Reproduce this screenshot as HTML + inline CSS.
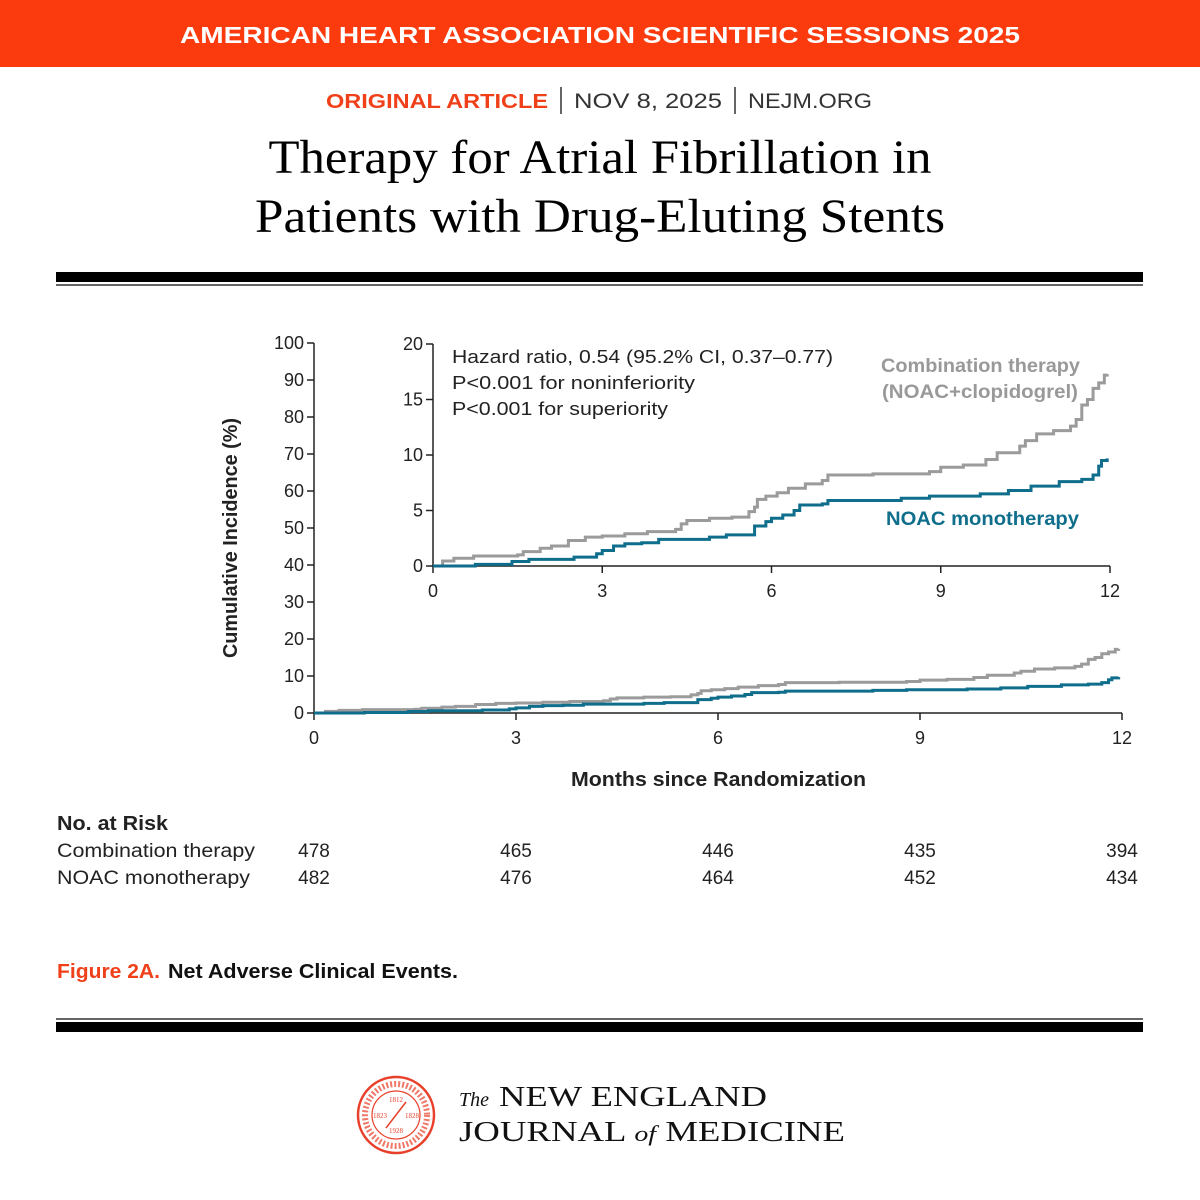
<!DOCTYPE html>
<html><head><meta charset="utf-8"><style>
html,body{margin:0;padding:0;background:#fff}
svg{display:block}
text{font-family:"Liberation Sans",sans-serif}
.serif{font-family:"Liberation Serif",serif}
</style></head><body>
<svg id="page" width="1200" height="1200" viewBox="0 0 1200 1200" xmlns="http://www.w3.org/2000/svg">
<rect x="0" y="0" width="1200" height="67" fill="#fb3a0e"/>
<text x="600" y="43" text-anchor="middle" fill="#fff" font-size="23" font-weight="bold" textLength="840" lengthAdjust="spacingAndGlyphs">AMERICAN HEART ASSOCIATION SCIENTIFIC SESSIONS 2025</text>
<text x="326" y="108" fill="#f0401a" font-size="20" font-weight="bold" textLength="222" lengthAdjust="spacingAndGlyphs">ORIGINAL ARTICLE</text>
<line x1="561" y1="87" x2="561" y2="114" stroke="#333" stroke-width="1.5"/>
<text x="574" y="108" fill="#333" font-size="21" textLength="148" lengthAdjust="spacingAndGlyphs">NOV 8, 2025</text>
<line x1="735" y1="87" x2="735" y2="114" stroke="#333" stroke-width="1.5"/>
<text x="748" y="108" fill="#333" font-size="21" textLength="124" lengthAdjust="spacingAndGlyphs">NEJM.ORG</text>
<text class="serif" x="600" y="173" text-anchor="middle" font-size="48" fill="#000" textLength="663" lengthAdjust="spacingAndGlyphs">Therapy for Atrial Fibrillation in</text>
<text class="serif" x="600" y="232" text-anchor="middle" font-size="48" fill="#000" textLength="690" lengthAdjust="spacingAndGlyphs">Patients with Drug-Eluting Stents</text>
<rect x="56" y="272" width="1087" height="10" fill="#000"/>
<rect x="56" y="284" width="1087" height="2" fill="#666"/>
<rect x="56" y="1018" width="1087" height="2" fill="#666"/>
<rect x="56" y="1022" width="1087" height="10" fill="#000"/>

<g id="main"></g>
<g id="inset"></g>

<text transform="translate(237,538) rotate(-90)" text-anchor="middle" font-size="20" font-weight="bold" fill="#222" textLength="240" lengthAdjust="spacingAndGlyphs">Cumulative Incidence (%)</text>
<text x="571" y="786" font-size="20" font-weight="bold" fill="#222" textLength="295" lengthAdjust="spacingAndGlyphs">Months since Randomization</text>

<text x="452" y="363" font-size="18" fill="#222" textLength="381" lengthAdjust="spacingAndGlyphs">Hazard ratio, 0.54 (95.2% CI, 0.37–0.77)</text>
<text x="452" y="389" font-size="18" fill="#222" textLength="243" lengthAdjust="spacingAndGlyphs">P&lt;0.001 for noninferiority</text>
<text x="452" y="415" font-size="18" fill="#222" textLength="216" lengthAdjust="spacingAndGlyphs">P&lt;0.001 for superiority</text>
<text x="881" y="372" font-size="19" font-weight="bold" fill="#999" textLength="199" lengthAdjust="spacingAndGlyphs">Combination therapy</text>
<text x="882" y="398" font-size="19" font-weight="bold" fill="#999" textLength="196" lengthAdjust="spacingAndGlyphs">(NOAC+clopidogrel)</text>
<text x="886" y="525" font-size="19" font-weight="bold" fill="#0e6e8c" textLength="193" lengthAdjust="spacingAndGlyphs">NOAC monotherapy</text>

<text x="57" y="830" font-size="20" font-weight="bold" fill="#222" textLength="111" lengthAdjust="spacingAndGlyphs">No. at Risk</text>
<text x="57" y="857" font-size="19" fill="#222" textLength="198" lengthAdjust="spacingAndGlyphs">Combination therapy</text>
<text x="57" y="884" font-size="19" fill="#222" textLength="193" lengthAdjust="spacingAndGlyphs">NOAC monotherapy</text>
<g id="risk"></g>

<text x="57" y="978" font-size="20" font-weight="bold" fill="#f0401a" textLength="103" lengthAdjust="spacingAndGlyphs">Figure 2A.</text>
<text x="168" y="978" font-size="20" font-weight="bold" fill="#111" textLength="290" lengthAdjust="spacingAndGlyphs">Net Adverse Clinical Events.</text>

<g>
<circle cx="396" cy="1115" r="38" fill="none" stroke="#e8402a" stroke-width="2.5"/>
<circle cx="396" cy="1115" r="24" fill="none" stroke="#e8402a" stroke-width="1.2"/>
<text x="396" y="1102" text-anchor="middle" font-size="7" fill="#e8402a" class="serif">1812</text>
<text x="396" y="1133" text-anchor="middle" font-size="7" fill="#e8402a" class="serif">1928</text>
<text x="380" y="1118" text-anchor="middle" font-size="7" fill="#e8402a" class="serif">1823</text>
<text x="412" y="1118" text-anchor="middle" font-size="7" fill="#e8402a" class="serif">1828</text>
<line x1="386" y1="1128" x2="406" y2="1102" stroke="#e8402a" stroke-width="1.5"/>
<circle cx="396" cy="1115" r="31" fill="none" stroke="#e8402a" stroke-width="6" stroke-dasharray="2 2" opacity="0.7"/>
</g>
<text class="serif" x="459" y="1106" font-size="20" font-style="italic" fill="#111">The</text>
<text class="serif" x="499" y="1106" font-size="29" fill="#111" textLength="268" lengthAdjust="spacingAndGlyphs">NEW ENGLAND</text>
<text class="serif" x="459" y="1141" font-size="29" fill="#111" textLength="386" lengthAdjust="spacingAndGlyphs">JOURNAL <tspan font-style="italic" font-size="22">of</tspan> MEDICINE</text>
</svg>
<script>
// Kaplan-Meier step data (months, cumulative incidence %)
const combTimes = [0,0.17,0.37,0.72,1.5,1.6,1.9,2.1,2.4,2.7,3.0,3.4,3.8,4.3,4.4,4.5,4.9,5.3,5.6,5.7,5.75,5.9,6.1,6.3,6.6,6.9,7.0,7.8,8.8,9.0,9.4,9.8,10.0,10.4,10.5,10.7,11.0,11.3,11.4,11.5,11.6,11.7,11.8,11.9,11.95];
const combValues = [0,0.45,0.7,0.9,1.0,1.3,1.6,1.8,2.3,2.6,2.7,2.9,3.1,3.3,3.8,4.1,4.3,4.4,4.9,5.3,6.0,6.3,6.6,7.0,7.4,7.7,8.2,8.3,8.5,8.9,9.1,9.6,10.2,10.8,11.3,11.9,12.2,12.6,13.2,14.5,15.0,16.0,16.5,17.2,17.3];
const noacTimes = [0,0.75,1.4,1.7,2.5,2.9,3.0,3.2,3.4,3.7,4.0,4.9,5.2,5.7,5.9,6.0,6.2,6.4,6.5,6.9,7.0,8.3,8.8,9.7,10.2,10.6,11.1,11.5,11.7,11.8,11.85,11.95];
const noacValues = [0,0.15,0.4,0.6,0.8,1.1,1.4,1.8,2.0,2.1,2.4,2.6,2.8,3.6,4.0,4.3,4.6,5.0,5.5,5.6,5.9,6.1,6.3,6.5,6.8,7.2,7.6,7.8,8.2,9.0,9.5,9.7];
const xTicks = [0,3,6,9,12];
const mainYTicks = [0,10,20,30,40,50,60,70,80,90,100];
const insetYTicks = [0,5,10,15,20];
const riskComb = [478,465,446,435,394];
const riskNoac = [482,476,464,452,434];

const NS = "http://www.w3.org/2000/svg";
function mk(tag, attrs, parent){const e=document.createElementNS(NS,tag);for(const k in attrs)e.setAttribute(k,attrs[k]);parent.appendChild(e);return e;}
function stepPath(ts, vs, sx, sy){let d="M"+sx(ts[0])+","+sy(vs[0]);for(let i=1;i<ts.length;i++){d+=" H"+sx(ts[i])+" V"+sy(vs[i]);}return d;}

function drawChart(g, x0, x1, y0, y1, ymax, yTicks, opts){
  const sx = t => x0 + (t/12)*(x1-x0);
  const sy = v => y0 - (v/ymax)*(y0-y1);
  const ax = mk("path",{d:"M"+x0+","+y1+" V"+y0+" H"+x1,fill:"none",stroke:"#222","stroke-width":1.5},g);
  
  
  yTicks.forEach(v=>{
    const y=sy(v);
    mk("line",{x1:x0-7,y1:y,x2:x0,y2:y,stroke:"#222","stroke-width":1.5},g);
    const t=mk("text",{x:x0-10,y:y+6,"text-anchor":"end","font-size":18,fill:"#222"},g);
    t.textContent=v;
    
    
  });
  xTicks.forEach(m=>{
    const x=sx(m);
    mk("line",{x1:x,y1:y0,x2:x,y2:y0+7,stroke:"#222","stroke-width":1.5},g);
    const t=mk("text",{x:x,y:y0+31,"text-anchor":"middle","font-size":18,fill:"#222"},g);
    t.textContent=m;
    
    
  });
  const pc=mk("path",{d:stepPath(combTimes,combValues,sx,sy),fill:"none",stroke:"#9b9b9b","stroke-width":3},g);
  
  
  const pn=mk("path",{d:stepPath(noacTimes,noacValues,sx,sy),fill:"none",stroke:"#0e6e8c","stroke-width":3},g);
  
  
}
drawChart(document.getElementById("main"),314,1122,713,343,100,mainYTicks,{prefix:"main"});
drawChart(document.getElementById("inset"),433,1110,566,344,20,insetYTicks,{prefix:"inset"});

const risk=document.getElementById("risk");
xTicks.forEach((m,i)=>{
  const x=314+(m/12)*(1122-314);
  const a=mk("text",{x:x,y:857,"text-anchor":"middle","font-size":19,fill:"#222"},risk);
  a.textContent=riskComb[i];
  
  
  const b=mk("text",{x:x,y:884,"text-anchor":"middle","font-size":19,fill:"#222"},risk);
  b.textContent=riskNoac[i];
  
  
});
</script>
</body></html>
